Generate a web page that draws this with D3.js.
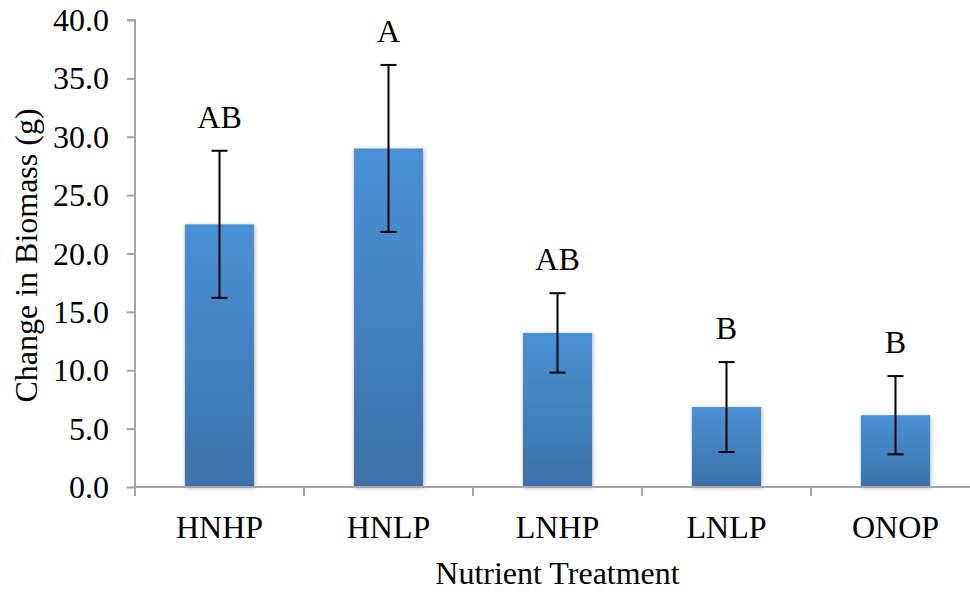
<!DOCTYPE html>
<html><head><meta charset="utf-8">
<script src="https://cdn.jsdelivr.net/npm/d3@7"></script>
<style>body{margin:0;background:#fff}svg{display:block}text{font-family:"Liberation Serif","Times New Roman",serif;fill:#000}</style>
</head><body><svg id="c" width="970" height="592"></svg>
<script>
const categories = ["HNHP","HNLP","LNHP","LNLP","ONOP"];
const means = [22.5, 29.0, 13.2, 6.85, 6.15];
const errors = [6.3, 7.15, 3.4, 3.85, 3.35];
const letters = ["AB","A","AB","B","B"];
const yTicks = [0,5,10,15,20,25,30,35,40];
const xTitle = "Nutrient Treatment";
const yTitle = "Change in Biomass (g)";

const svg = d3.select("#c");
const m = {l:135, r:980, t:20, b:487};
const fs = 32;
const axisCol = "#a6a6a6";

const x = d3.scaleBand().domain(categories).range([m.l, m.r]).paddingInner(0.59).paddingOuter(0.295);
const xc = d3.scaleBand().domain(categories).range([m.l, m.r]).padding(0);
const y = d3.scaleLinear().domain([0,40]).range([m.b, m.t]);

const defs = svg.append("defs");
const g = defs.append("linearGradient").attr("id","bg").attr("x1",0).attr("y1",0).attr("x2",0).attr("y2",1);
g.append("stop").attr("offset","0%").attr("stop-color","#4a91d5");
g.append("stop").attr("offset","100%").attr("stop-color","#3c72a9");
const f = defs.append("filter").attr("id","sh").attr("x","-20%").attr("y","-5%").attr("width","140%").attr("height","115%");
f.append("feDropShadow").attr("dx",1).attr("dy",1).attr("stdDeviation",2).attr("flood-color","#000").attr("flood-opacity",0.25);

// bars
svg.append("g").selectAll("rect").data(categories).join("rect")
  .attr("x", d => x(d)).attr("width", x.bandwidth())
  .attr("y", (d,i) => y(means[i])).attr("height", (d,i) => y(0) - y(means[i]))
  .attr("fill","url(#bg)").attr("filter","url(#sh)");

// y axis
const ya = svg.append("g").attr("transform",`translate(${m.l},0)`)
  .call(d3.axisLeft(y).tickValues(yTicks).tickFormat(d3.format(".1f")).tickSize(8).tickPadding(18));
ya.select(".domain").attr("stroke",axisCol).attr("stroke-width",2).attr("d",`M-8,${m.t}H0V${m.b}`);
ya.selectAll(".tick line").attr("stroke",axisCol).attr("stroke-width",2);
ya.selectAll(".tick text").attr("font-size",fs).attr("font-family","Liberation Serif").attr("fill","#000").attr("dy","0.33em");

// x axis
const xa = svg.append("g").attr("transform",`translate(0,${m.b})`)
  .call(d3.axisBottom(xc).tickSize(0).tickPadding(0));
xa.select(".domain").attr("stroke",axisCol).attr("stroke-width",2).attr("d",`M${m.l},0H${m.r}`);
xa.selectAll(".tick text").attr("font-size",fs).attr("font-family","Liberation Serif").attr("fill","#000").attr("y",51).attr("dy",0);
// category boundary ticks
const bounds = categories.map(c => xc(c)).concat([m.r]);
svg.append("g").selectAll("line").data(bounds).join("line")
  .attr("x1",d=>d).attr("x2",d=>d).attr("y1",m.b).attr("y2",m.b+9)
  .attr("stroke",axisCol).attr("stroke-width",2);

// error bars
const eb = svg.append("g").attr("stroke","#000").attr("stroke-width",2);
categories.forEach((c,i) => {
  const cx = x(c) + x.bandwidth()/2;
  const hi = y(means[i]+errors[i]), lo = y(means[i]-errors[i]);
  eb.append("line").attr("x1",cx).attr("x2",cx).attr("y1",hi).attr("y2",lo);
  eb.append("line").attr("x1",cx-8).attr("x2",cx+8).attr("y1",hi).attr("y2",hi);
  eb.append("line").attr("x1",cx-8).attr("x2",cx+8).attr("y1",lo).attr("y2",lo);
  svg.append("text").attr("x",cx).attr("y",hi-23).attr("text-anchor","middle")
    .attr("font-size",fs).text(letters[i]);
});

// titles
svg.append("text").attr("x",(m.l+m.r)/2).attr("y",584).attr("text-anchor","middle")
  .attr("font-size",fs).text(xTitle);
svg.append("text").attr("transform",`translate(37,${(m.t+m.b)/2+2}) rotate(-90)`).attr("text-anchor","middle")
  .attr("font-size",fs).text(yTitle);
</script></body></html>
